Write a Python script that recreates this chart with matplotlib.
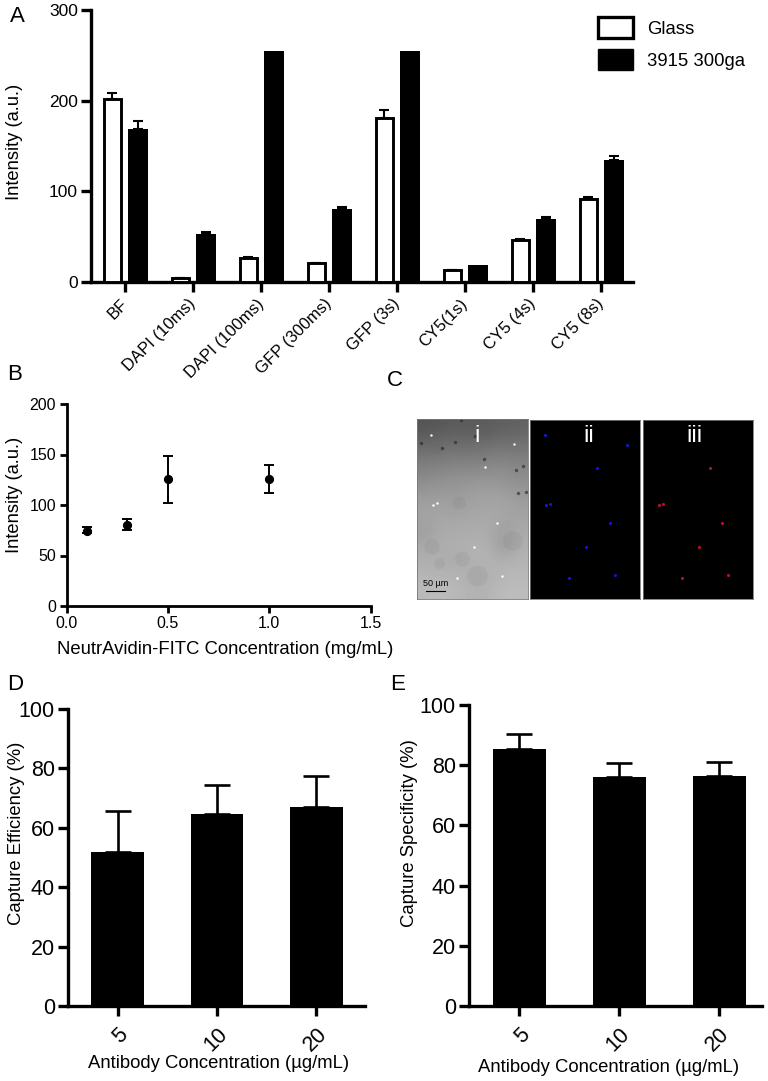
import numpy as np
import matplotlib
matplotlib.use('Agg')
import matplotlib.pyplot as plt
import matplotlib.transforms as mtransforms
from matplotlib.patches import Patch

plt.rcParams['font.family'] = ['Liberation Sans', 'DejaVu Sans']

W, H = 768, 1081

# Panel A
a_labels = ['BF', 'DAPI (10ms)', 'DAPI (100ms)', 'GFP (300ms)', 'GFP (3s)', 'CY5(1s)', 'CY5 (4s)', 'CY5 (8s)']
a_glass = [202, 4, 27, 21, 181, 13, 46, 91]
a_glass_err = [7, 0.5, 0.5, 0.5, 9, 0.5, 1, 2.5]
a_black = [169, 53, 255, 81, 255, 19, 70, 135]
a_black_err = [9, 2, 0, 2, 0, 0, 2, 4]

# Panel B
b_conc = [0.1, 0.3, 0.5, 1.0]
b_mean = [74, 80.5, 125.5, 125.7]
b_low = [72, 75, 102, 112]
b_high = [78, 86, 149, 139.6]

# Panel C, positions in image pixels (110 x 180)
c_blue_x = [14.7, 96.7, 67, 20, 16.3, 80.3, 56.3, 39.3, 85.3]
c_blue_y = [15.3, 25.3, 48, 84, 85.7, 103.3, 127.7, 159, 156.3]
c_red_x = [67.3, 20, 16.3, 79.7, 56, 39.3, 85.3]
c_red_y = [48, 84, 85.7, 103.3, 127.7, 159, 156.3]
c_dark_x = [44, 4.3, 37.7, 25, 57.7, 66.7, 105.3, 107.7, 97.7, 100]
c_dark_y = [1.3, 24, 23, 29, 17.3, 39.7, 47.3, 73, 50.7, 74]
c_light_x = [14, 96, 67, 16.3, 20, 79.7, 56, 39.3, 84.7]
c_light_y = [15.7, 25.3, 48.3, 86, 84, 103.7, 128, 159, 156.7]
c_blot_x = [95, 22.7, 42, 60, 45, 15, 20, 70]
c_blot_y = [122, 144.7, 84, 157, 140, 128, 30, 15]
c_blot_size = [200, 60, 90, 220, 120, 120, 60, 60]
c_gray = [
    [84, 88, 92, 90, 92, 96, 98],
    [100, 104, 106, 104, 108, 110, 112],
    [118, 120, 124, 122, 126, 128, 126],
    [132, 136, 138, 140, 142, 142, 136],
    [146, 150, 152, 154, 156, 152, 148],
    [158, 160, 156, 162, 164, 164, 156],
    [164, 166, 164, 168, 168, 166, 164],
    [158, 170, 172, 172, 172, 158, 170],
    [168, 174, 176, 178, 178, 152, 176],
    [176, 172, 170, 178, 180, 176, 180],
    [182, 180, 182, 172, 176, 184, 184],
    [186, 188, 184, 178, 180, 188, 188],
]

# Panels D and E
conc_labels = ['5', '10', '20']
d_mean = [52, 64.5, 67]
d_err = [13.5, 10, 10.5]
e_mean = [85.5, 76, 76.5]
e_err = [4.7, 4.7, 4.7]

fig = plt.figure(figsize=(W / 100, H / 100), dpi=100)
px = mtransforms.Affine2D().scale(1 / W, -1 / H).translate(0, 1) + fig.transFigure


def axes_px(x0, x1, y_top, y_bottom):
    return fig.add_axes([x0 / W, 1 - y_bottom / H, (x1 - x0) / W, (y_bottom - y_top) / H])


def style(ax, lw, ticksize, length=7):
    ax.spines['top'].set_visible(False)
    ax.spines['right'].set_visible(False)
    ax.spines['left'].set_linewidth(lw)
    ax.spines['bottom'].set_linewidth(lw)
    ax.tick_params(width=lw, length=length, labelsize=ticksize, pad=2.5, color='black')


def shift_labels(ax, dx, dy):
    # rotated labels sit a bit left of where ha='right' puts them
    offset = mtransforms.ScaledTranslation(dx / 100, dy / 100, fig.dpi_scale_trans)
    for lab in ax.get_xticklabels():
        lab.set_transform(lab.get_transform() + offset)


def upper_err(ax, x, vals, errs, **kw):
    x, vals, errs = np.array(x), np.array(vals), np.array(errs)
    keep = errs > 0
    ax.errorbar(x[keep], vals[keep], yerr=[np.zeros(keep.sum()), errs[keep]], fmt='none', ecolor='black', **kw)


# A
ax = axes_px(91, 633, 10, 282)
x = np.arange(len(a_labels))
upper_err(ax, x - 0.187, a_glass, a_glass_err, elinewidth=1.5, capsize=3.6, capthick=1.5)
upper_err(ax, x + 0.187, a_black, a_black_err, elinewidth=1.5, capsize=3.6, capthick=1.5)
ax.bar(x - 0.187, a_glass, width=0.25, color='white', edgecolor='black', linewidth=2.1, zorder=3)
ax.bar(x + 0.187, a_black, width=0.294, color='black', zorder=3)
ax.set_xlim(-0.5, 7.47)
ax.set_ylim(0, 300)
ax.set_yticks([0, 100, 200, 300])
ax.set_xticks(x)
ax.set_xticklabels(a_labels, rotation=45, ha='right', va='top', rotation_mode='anchor')
style(ax, 2.4, 12.5)
ax.tick_params(axis='x', labelsize=12, pad=6)
shift_labels(ax, -5, 4)
ax.set_ylabel('Intensity (a.u.)', fontsize=13.2, va='center')
ax.yaxis.set_label_coords(15, 142, transform=px)
handles = [Patch(facecolor='white', edgecolor='black', linewidth=2.4, label='Glass'),
           Patch(facecolor='black', edgecolor='black', label='3915 300ga')]
fig.legend(handles=handles, loc='upper left', bbox_to_anchor=(598, 17), bbox_transform=px, frameon=False,
           fontsize=13.3, borderpad=0, borderaxespad=0, handlelength=1.9, handleheight=1.37, labelspacing=0.6, handletextpad=0.75)

# B
ax = axes_px(66.5, 370.5, 404, 606)
yerr = [np.array(b_mean) - np.array(b_low), np.array(b_high) - np.array(b_mean)]
ax.errorbar(b_conc, b_mean, yerr=yerr, fmt='o', color='black', markersize=5.6, elinewidth=1.4, capsize=3.3, capthick=1.4, clip_on=False)
ax.set_xlim(0, 1.5)
ax.set_ylim(0, 200)
ax.set_xticks([0, 0.5, 1.0, 1.5])
ax.set_xticklabels(['0.0', '0.5', '1.0', '1.5'])
ax.set_yticks([0, 50, 100, 150, 200])
style(ax, 2.0, 11.5, length=5)
ax.set_ylabel('Intensity (a.u.)', fontsize=13.2, va='center')
ax.yaxis.set_label_coords(15, 495, transform=px)
ax.set_xlabel('NeutrAvidin-FITC Concentration (mg/mL)', fontsize=13.3, va='center')
ax.xaxis.set_label_coords(225, 649, transform=px)

# C
c_boxes = [(417, 528, 419, 599), (530, 640, 420, 599), (642.7, 752.7, 420, 599)]
for i, box in enumerate(c_boxes):
    ax = axes_px(*box)
    ax.set_xlim(0, 110)
    ax.set_ylim(180, 0)
    ax.set_xticks([])
    ax.set_yticks([])
    for s in ax.spines.values():
        s.set_color('#777777')
        s.set_linewidth(0.6)
    if i == 0:
        ax.imshow(c_gray, cmap='gray', vmin=0, vmax=255, extent=[0, 110, 180, 0], aspect='auto', interpolation='bicubic')
        ax.scatter(c_blot_x, c_blot_y, s=c_blot_size, color='#555555', alpha=0.07, linewidths=0)
        ax.scatter(c_dark_x, c_dark_y, s=6, color='#222222', alpha=0.6, linewidths=0)
        ax.scatter(c_light_x, c_light_y, s=3, color='white', linewidths=0)
        ax.plot([9, 28], [172, 172], color='black', lw=0.8)
        ax.text(18.5, 165, '50 µm', fontsize=6.5, ha='center', va='center')
        ax.text(60, 17, 'i', color='white', fontsize=17, ha='center', va='center')
    elif i == 1:
        ax.set_facecolor('black')
        ax.scatter(c_blue_x, c_blue_y, s=5, color='#1616d0', linewidths=0)
        ax.text(58.7, 16, 'ii', color='white', fontsize=17, ha='center', va='center')
    else:
        ax.set_facecolor('black')
        ax.scatter(c_red_x, c_red_y, s=5, color='#b80f2a', linewidths=0)
        ax.text(51.7, 16, 'iii', color='white', fontsize=17, ha='center', va='center')


# D and E
def conc_panel(box, xmax, means, errs, ylabel, ylabel_xy, xlabel_xy):
    ax = axes_px(*box)
    x = np.arange(len(means))
    upper_err(ax, x, means, errs, elinewidth=1.9, capsize=9.7, capthick=1.9)
    ax.bar(x, means, width=0.53, color='black', zorder=3)
    ax.set_xlim(-0.5, xmax)
    ax.set_ylim(0, 100)
    ax.set_xticks(x)
    ax.set_xticklabels(conc_labels, rotation=45, ha='right', va='top', rotation_mode='anchor')
    ax.set_yticks([0, 20, 40, 60, 80, 100])
    style(ax, 2.4, 15.5)
    ax.tick_params(axis='x', labelsize=15.5, pad=6)
    ax.set_ylabel(ylabel, fontsize=13.3, va='center')
    ax.yaxis.set_label_coords(ylabel_xy[0], ylabel_xy[1], transform=px)
    ax.set_xlabel('Antibody Concentration (µg/mL)', fontsize=13.3, va='center')
    ax.xaxis.set_label_coords(xlabel_xy[0], xlabel_xy[1], transform=px)


conc_panel((68, 365, 709, 1006), 2.49, d_mean, d_err, 'Capture Efficiency (%)', (17, 833), (219, 1063))
conc_panel((469, 762, 705, 1006), 2.43, e_mean, e_err, 'Capture Specificity (%)', (409, 833), (609, 1067))

# panel letters
for letter, lx, ly in [('A', 17, 16), ('B', 15, 375), ('C', 395, 381), ('D', 15, 684), ('E', 398, 685)]:
    fig.text(lx, ly, letter, transform=px, fontsize=16, ha='center', va='center')

plt.savefig('out.png', dpi=100)
